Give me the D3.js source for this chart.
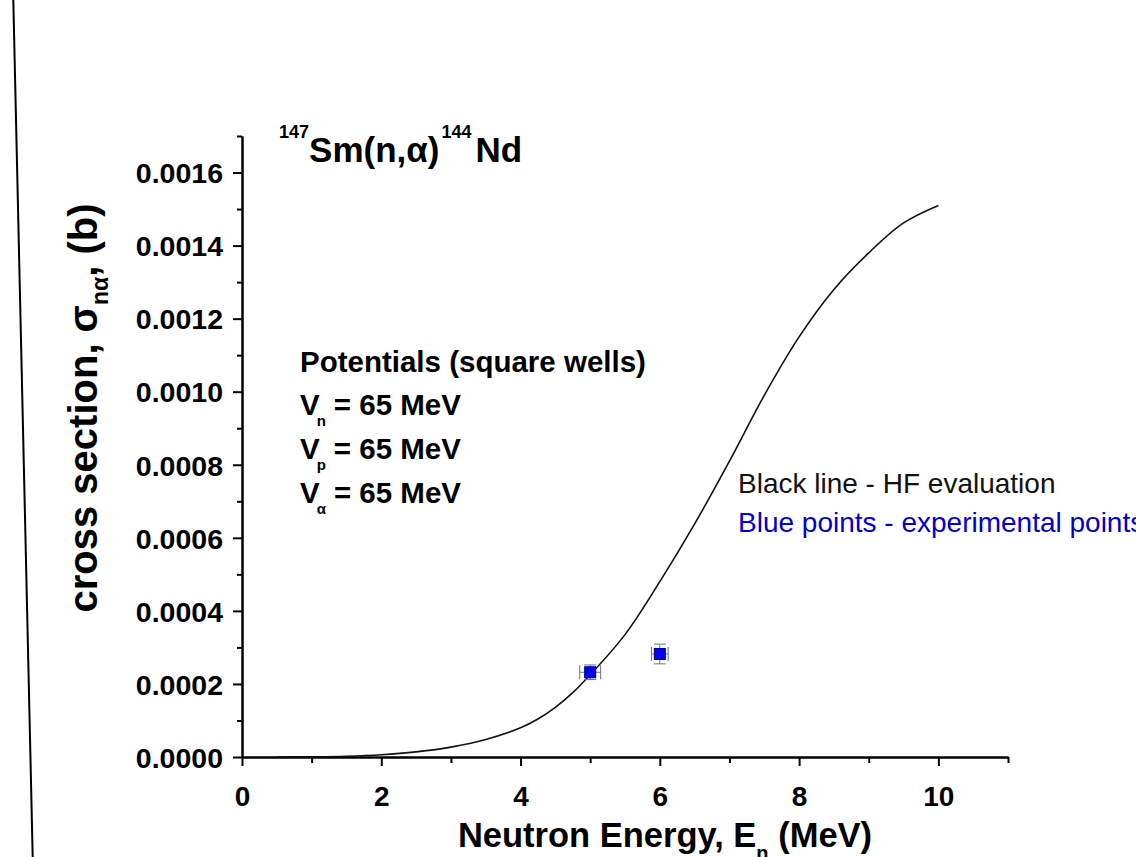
<!DOCTYPE html>
<html>
<head>
<meta charset="utf-8">
<script src="https://cdn.jsdelivr.net/npm/d3@7"></script>
<style>
  body { margin: 0; background: #fff; }
  svg { display: block; font-family: Arial, "Liberation Sans", sans-serif; }
</style>
</head>
<body>
<div class="chart"></div>
<script>
// HF evaluation curve
const energyHF = [0.5, 1.0, 1.5, 2.0, 2.5, 3.0, 3.5, 4.0, 4.25, 4.5, 4.75, 5.0, 5.5, 6.0, 6.5, 7.0, 7.5, 8.0, 8.5, 9.0, 9.5, 10.0];
const sigmaHF = [0.0000000, 0.0000005, 0.0000020, 0.0000060, 0.0000140, 0.0000270, 0.0000480, 0.0000800, 0.0001040, 0.0001360, 0.0001760, 0.0002250,
                 0.0003350, 0.0004800, 0.0006380, 0.0008100, 0.0009900, 0.0011500, 0.0012800, 0.0013800, 0.0014620, 0.0015100];

// experimental points
const expE = [5.0, 6.0];
const expSigma = [0.000232, 0.000282];
const expEErr = [0.15, 0.12];
const expSigmaErr = [0.000020, 0.000027];

const xMajor = [0, 2, 4, 6, 8, 10];
const xMinor = [1, 3, 5, 7, 9, 11];
const yMajor = [0, 0.0002, 0.0004, 0.0006, 0.0008, 0.0010, 0.0012, 0.0014, 0.0016];
const yMinor = [0.0001, 0.0003, 0.0005, 0.0007, 0.0009, 0.0011, 0.0013, 0.0015, 0.0017];

const width = 1136, height = 857;

const svg = d3.select('.chart')
  .append('svg')
  .attr('width', width)
  .attr('height', height);

// slanted slide border on the left
svg.append('line')
  .attr('x1', 13.3).attr('y1', 0)
  .attr('x2', 32.7).attr('y2', height)
  .style('stroke', '#000')
  .style('stroke-width', 2);

const x = d3.scaleLinear().domain([0, 11]).range([242, 1008]);
const y = d3.scaleLinear().domain([0, 0.0017]).range([757, 136]);

// x axis
const gx = svg.append('g').attr('transform', `translate(0,${y(0)})`);
gx.call(d3.axisBottom(x).tickValues(xMajor).tickSize(9).tickSizeOuter(0).tickFormat(d3.format('d')));
gx.append('g').call(d3.axisBottom(x).tickValues(xMinor).tickSize(6).tickSizeOuter(0).tickFormat(''));

// y axis
const gy = svg.append('g').attr('transform', `translate(${x(0)},0)`);
gy.call(d3.axisLeft(y).tickValues(yMajor).tickSize(9).tickSizeOuter(0).tickFormat(d3.format('.4f')));
gy.append('g').call(d3.axisLeft(y).tickValues(yMinor).tickSize(5).tickSizeOuter(0).tickFormat(''));

svg.selectAll('.domain').style('stroke', '#000').style('stroke-width', 2);
svg.selectAll('.tick line').style('stroke', '#000').style('stroke-width', 2);
gx.selectAll('.tick text')
  .attr('y', 0).attr('dy', 0)
  .attr('transform', 'translate(0,49)')
  .style('font-size', '28px').style('font-weight', 'bold').style('fill', '#000');
gy.selectAll('.tick text')
  .attr('x', -19).attr('dy', '0.36em')
  .style('font-size', '28.5px').style('font-weight', 'bold').style('fill', '#000');

// HF curve
const line = d3.line()
  .x((d, i) => x(energyHF[i]))
  .y(d => y(d))
  .curve(d3.curveCatmullRom.alpha(0.5));

svg.append('path')
  .datum(sigmaHF)
  .attr('d', line)
  .style('fill', 'none')
  .style('stroke', '#111')
  .style('stroke-width', 1.6);

// experimental points with error bars
const errColor = '#6a6f9a';
const pts = svg.selectAll('.pt')
  .data(expE)
  .join('g')
  .attr('class', 'pt');

pts.append('line')
  .attr('x1', (d, i) => x(d - expEErr[i])).attr('x2', (d, i) => x(d + expEErr[i]))
  .attr('y1', (d, i) => y(expSigma[i])).attr('y2', (d, i) => y(expSigma[i]))
  .style('stroke', errColor).style('stroke-width', 1);
pts.append('line')
  .attr('x1', d => x(d)).attr('x2', d => x(d))
  .attr('y1', (d, i) => y(expSigma[i] - expSigmaErr[i])).attr('y2', (d, i) => y(expSigma[i] + expSigmaErr[i]))
  .style('stroke', errColor).style('stroke-width', 1);
// caps
[-1, 1].forEach(s => {
  pts.append('line')
    .attr('x1', (d, i) => x(d + s * expEErr[i])).attr('x2', (d, i) => x(d + s * expEErr[i]))
    .attr('y1', (d, i) => y(expSigma[i]) - 7).attr('y2', (d, i) => y(expSigma[i]) + 7)
    .style('stroke', errColor).style('stroke-width', 1);
  pts.append('line')
    .attr('x1', d => x(d) - 6).attr('x2', d => x(d) + 6)
    .attr('y1', (d, i) => y(expSigma[i] + s * expSigmaErr[i])).attr('y2', (d, i) => y(expSigma[i] + s * expSigmaErr[i]))
    .style('stroke', errColor).style('stroke-width', 1);
});
pts.append('rect')
  .attr('x', d => x(d) - 5.5)
  .attr('y', (d, i) => y(expSigma[i]) - 5.5)
  .attr('width', 11).attr('height', 11)
  .style('fill', '#0000ee')
  .style('stroke', '#00008b')
  .style('stroke-width', 1);

// title
const title = svg.append('text')
  .attr('x', 279).attr('y', 162)
  .style('font-weight', 'bold').style('fill', '#000');
title.append('tspan').text('147').style('font-size', '18px').attr('dy', -24);
title.append('tspan').text('Sm(n,α)').style('font-size', '35px').attr('dy', 24);
title.append('tspan').text('144').style('font-size', '18px').attr('dy', -24).attr('dx', 2);
title.append('tspan').text('Nd').style('font-size', '35px').attr('dy', 24).attr('dx', 4);

// potentials block
const potLines = [['', 'Potentials (square wells)'], ['n', '= 65 MeV'], ['p', '= 65 MeV'], ['α', '= 65 MeV']];
const potY = [372, 415, 459, 503];
potLines.forEach((p, i) => {
  const t = svg.append('text')
    .attr('x', 300).attr('y', potY[i])
    .style('font-size', '29.5px').style('font-weight', 'bold').style('fill', '#000');
  if (p[0] === '') {
    t.text(p[1]);
  } else {
    t.append('tspan').text('V');
    t.append('tspan').text(p[0]).style('font-size', '15px').attr('dx', -3).attr('dy', 11);
    t.append('tspan').text(p[1]).attr('dx', 8).attr('dy', -11);
  }
});

// legend notes
svg.append('text')
  .attr('x', 738).attr('y', 493)
  .style('font-size', '28px').style('fill', '#111')
  .text('Black line - HF evaluation');
svg.append('text')
  .attr('x', 738).attr('y', 532)
  .style('font-size', '28px').style('fill', '#0000c8')
  .text('Blue points - experimental points');

// axis titles
const xt = svg.append('text')
  .attr('x', 665).attr('y', 847)
  .attr('text-anchor', 'middle')
  .style('font-size', '34.5px').style('font-weight', 'bold').style('fill', '#000');
xt.append('tspan').text('Neutron Energy, E');
xt.append('tspan').text('n').style('font-size', '20px').attr('dy', 13);
xt.append('tspan').text(' (MeV)').attr('dy', -13);

const yt = svg.append('text')
  .attr('transform', 'translate(97,408) rotate(-90)')
  .attr('text-anchor', 'middle')
  .style('font-size', '40px').style('font-weight', 'bold').style('fill', '#000');
yt.append('tspan').text('cross section, σ');
yt.append('tspan').text('nα').style('font-size', '23px').attr('dy', 11);
yt.append('tspan').text(', (b)').attr('dy', -11);
</script>
</body>
</html>
